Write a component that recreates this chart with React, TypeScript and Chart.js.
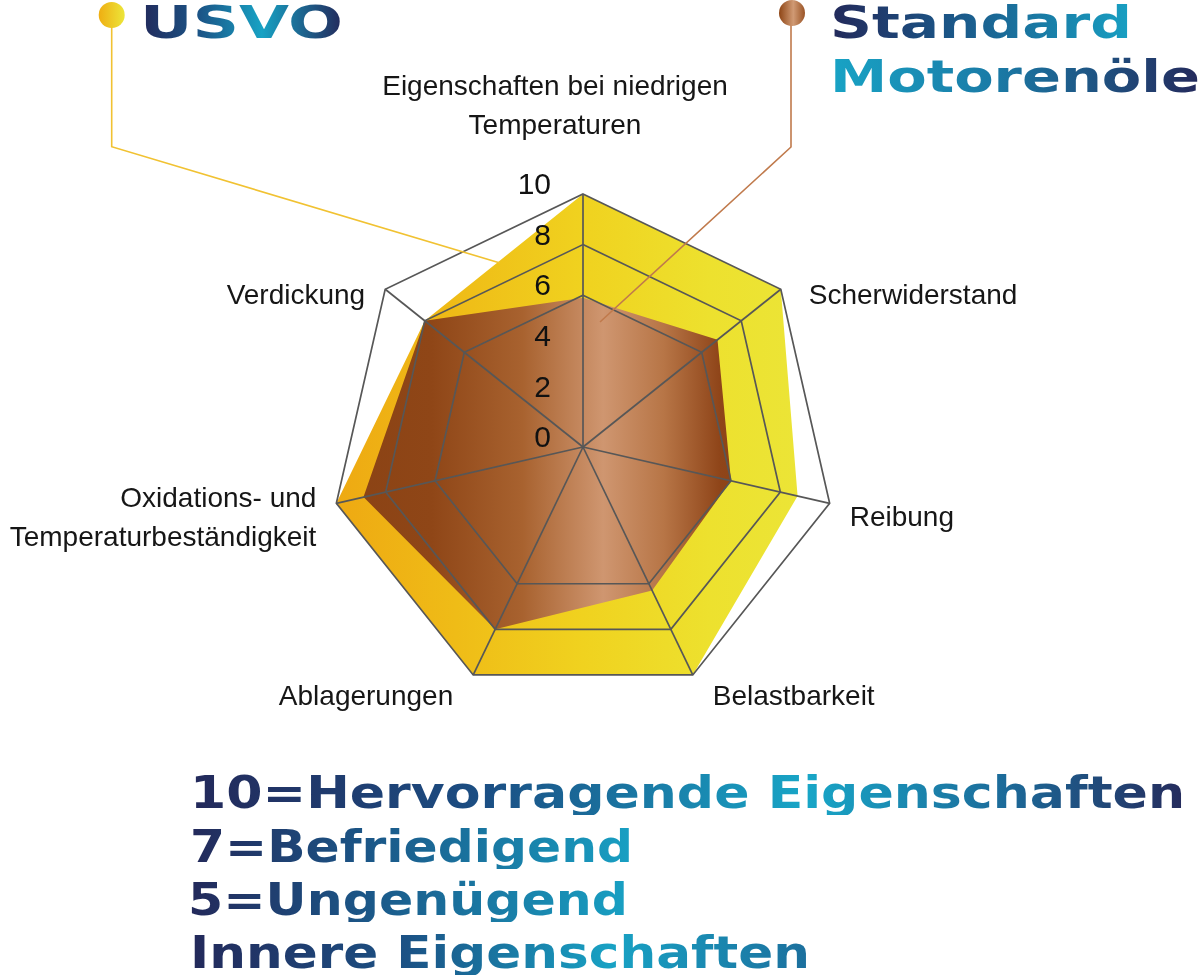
import React, { useEffect, useRef } from "react";
import Chart from "chart.js/auto";

// axes of the spider chart, clockwise from the top
const categories: (string | string[])[] = [
  ["Eigenschaften bei niedrigen", "Temperaturen"],
  "Scherwiderstand",
  "Reibung",
  "Belastbarkeit",
  "Ablagerungen",
  ["Oxidations- und", "Temperaturbeständigkeit"],
  "Verdickung",
];

const usvoValues = [10, 10, 8.7, 10, 10, 10, 8];
const standardValues = [5.9, 6.8, 6, 6.3, 8, 8.9, 8];

const seriesNames = ["USVO", "Standard Motorenöle"];
const scaleNotes = [
  "10=Hervorragende Eigenschaften",
  "7=Befriedigend",
  "5=Ungenügend",
  "Innere Eigenschaften",
];

const LABEL_FONT = '"Liberation Sans", Arial, sans-serif';
const TITLE_FONT = '"DejaVu Sans", sans-serif';

const yellowStops: [number, string][] = [
  [0, "#eea812"],
  [0.25, "#efbc17"],
  [0.5, "#f0d21f"],
  [0.75, "#ede12e"],
  [1, "#ebe63a"],
];
const brownStops: [number, string][] = [
  [0, "#8a4214"],
  [0.2, "#8f4617"],
  [0.38, "#a8622f"],
  [0.54, "#cf9670"],
  [0.66, "#b77546"],
  [0.77, "#8f4519"],
  [1, "#7e3a0e"],
];

const horizontalFill = (chart: Chart, stops: [number, string][]) => {
  const s: any = chart.scales.r;
  if (!s || !s.drawingArea) return stops[0][1];
  const g = chart.ctx.createLinearGradient(
    s.xCenter - s.drawingArea,
    0,
    s.xCenter + s.drawingArea,
    0
  );
  stops.forEach(([o, c]) => g.addColorStop(o, c));
  return g;
};

// numbers 0..10 drawn left of the vertical axis
const tickLabelPlugin = {
  id: "tickLabels",
  afterDraw(chart: Chart) {
    const s: any = chart.scales.r;
    const ctx = chart.ctx;
    ctx.save();
    ctx.font = `30px ${LABEL_FONT}`;
    ctx.fillStyle = "#111";
    ctx.textAlign = "right";
    ctx.textBaseline = "middle";
    s.ticks.forEach((t: any) => {
      const y = s.yCenter - s.getDistanceFromCenterForValue(t.value) - 8;
      ctx.fillText(t.label ?? String(t.value), s.xCenter - 32, y);
    });
    ctx.restore();
  },
};

// axis names, placed beside the outer vertices
const axisLabelPlugin = {
  id: "axisLabels",
  afterDraw(chart: Chart) {
    const s: any = chart.scales.r;
    const ctx = chart.ctx;
    const lh = 39;
    ctx.save();
    ctx.font = `28px ${LABEL_FONT}`;
    ctx.fillStyle = "#161616";
    ctx.textBaseline = "middle";
    (chart.data.labels as (string | string[])[]).forEach((lab, i) => {
      const lines = Array.isArray(lab) ? lab : [lab];
      const a = s.getIndexAngle(i);
      const sin = Math.sin(a);
      const cos = Math.cos(a);
      const p = s.getPointPosition(i, s.drawingArea);
      let x: number;
      let mid: number;
      if (Math.abs(sin) < 0.05) {
        ctx.textAlign = "center";
        x = p.x - 28;
        mid = p.y - 48 - (lines.length * lh) / 2;
      } else {
        ctx.textAlign = sin > 0 ? "left" : "right";
        x = p.x + (sin > 0 ? 20 : -20);
        if (i === 1) x += 8;
        mid = p.y + 13 - 10 * cos;
      }
      lines.forEach((t, k) =>
        ctx.fillText(t, x, mid + (k - (lines.length - 1) / 2) * lh)
      );
    });
    ctx.restore();
  },
};

const measureCtx =
  typeof document !== "undefined"
    ? document.createElement("canvas").getContext("2d")
    : null;

const FitText: React.FC<{
  text: string;
  left: number;
  top: number;
  width: number;
  size: number;
  gradient: string;
}> = ({ text, left, top, width, size, gradient }) => {
  let sx = 1;
  if (measureCtx) {
    measureCtx.font = `bold ${size}px ${TITLE_FONT}`;
    sx = width / measureCtx.measureText(text).width;
  }
  return (
    <div
      style={{
        position: "absolute",
        left,
        top,
        fontFamily: TITLE_FONT,
        fontWeight: "bold",
        fontSize: size,
        lineHeight: `${size}px`,
        whiteSpace: "nowrap",
        transform: `scaleX(${sx})`,
        transformOrigin: "0 0",
        background: gradient,
        WebkitBackgroundClip: "text",
        backgroundClip: "text",
        color: "transparent",
      }}
    >
      {text}
    </div>
  );
};

const SpiderChart: React.FC = () => {
  const canvasRef = useRef<HTMLCanvasElement | null>(null);

  useEffect(() => {
    const ctx = canvasRef.current?.getContext("2d");
    if (!ctx) return;

    const chart = new Chart(ctx, {
      type: "radar",
      data: {
        labels: categories,
        datasets: [
          {
            label: seriesNames[0],
            data: usvoValues,
            order: 2,
            fill: true,
            backgroundColor: (c: any) => horizontalFill(c.chart, yellowStops),
            borderWidth: 0,
            pointRadius: 0,
          },
          {
            label: seriesNames[1],
            data: standardValues,
            order: 1,
            fill: true,
            backgroundColor: (c: any) => horizontalFill(c.chart, brownStops),
            borderWidth: 0,
            pointRadius: 0,
          },
        ],
      },
      options: {
        animation: false,
        responsive: false,
        layout: { padding: { left: 330, right: 364, top: 194, bottom: 277 } },
        plugins: { legend: { display: false }, tooltip: { enabled: false } },
        scales: {
          r: {
            min: 0,
            max: 10,
            ticks: { stepSize: 2, display: false, z: 1 },
            pointLabels: { display: false },
            grid: {
              z: 1,
              color: (c: any) =>
                c.tick && c.tick.value >= 6 ? "#575757" : "rgba(0,0,0,0)",
              lineWidth: 1.7,
            },
            angleLines: { color: "#575757", lineWidth: 1.7 },
          },
        },
      },
      plugins: [tickLabelPlugin, axisLabelPlugin],
    });

    return () => chart.destroy();
  }, []);

  return (
    <canvas
      ref={canvasRef}
      width={1200}
      height={977}
      style={{ position: "absolute", left: 0, top: 0 }}
    />
  );
};

const App: React.FC = () => {
  const navyTeal = "linear-gradient(90deg, #23295a 0%, #1b5687 40%, #18a0c3 100%)";
  return (
    <div
      style={{
        position: "absolute",
        left: 0,
        top: 0,
        width: 1200,
        height: 977,
        overflow: "hidden",
        background: "#fff",
      }}
    >
      <SpiderChart />
      <svg
        width={1200}
        height={977}
        style={{ position: "absolute", left: 0, top: 0, pointerEvents: "none" }}
      >
        <defs>
          <linearGradient id="dotY" x1="0" x2="1" y1="0" y2="0">
            <stop offset="0" stopColor="#efae12" />
            <stop offset="1" stopColor="#ece63a" />
          </linearGradient>
          <linearGradient id="dotB" x1="0" x2="1" y1="0" y2="0">
            <stop offset="0" stopColor="#8e4515" />
            <stop offset="0.55" stopColor="#d09a74" />
            <stop offset="1" stopColor="#9a5426" />
          </linearGradient>
        </defs>
        <polyline
          points="111.7,15 111.7,146.7 500,263"
          fill="none"
          stroke="#f1c232"
          strokeWidth={1.6}
        />
        <polyline
          points="791,13 791,147 600,322"
          fill="none"
          stroke="#c07a4c"
          strokeWidth={1.6}
        />
        <circle cx={111.7} cy={15} r={13} fill="url(#dotY)" />
        <circle cx={792} cy={13} r={13} fill="url(#dotB)" />
      </svg>
      <FitText
        text={seriesNames[0]}
        left={140}
        top={0}
        width={203}
        size={45}
        gradient="linear-gradient(90deg, #22295a 0%, #1b5688 30%, #17a2c4 60%, #23295b 100%)"
      />
      <FitText
        text="Standard"
        left={830}
        top={0}
        width={302}
        size={45}
        gradient={navyTeal}
      />
      <FitText
        text="Motorenöle"
        left={830}
        top={54}
        width={370}
        size={45}
        gradient="linear-gradient(90deg, #18a3c5 0%, #1a7aa6 45%, #242a5c 100%)"
      />
      <FitText
        text={scaleNotes[0]}
        left={190}
        top={770}
        width={995}
        size={45}
        gradient="linear-gradient(90deg, #23295a 0%, #1b4f84 30%, #18a6c7 62%, #1c6a99 82%, #252b5c 100%)"
      />
      <FitText
        text={scaleNotes[1]}
        left={190}
        top={824}
        width={443}
        size={45}
        gradient={navyTeal}
      />
      <FitText
        text={scaleNotes[2]}
        left={188}
        top={877}
        width={440}
        size={45}
        gradient={navyTeal}
      />
      <FitText
        text={scaleNotes[3]}
        left={190}
        top={930}
        width={620}
        size={45}
        gradient="linear-gradient(90deg, #23295a 0%, #1b5285 35%, #18a2c4 68%, #1c6f9d 100%)"
      />
    </div>
  );
};

export default App;
